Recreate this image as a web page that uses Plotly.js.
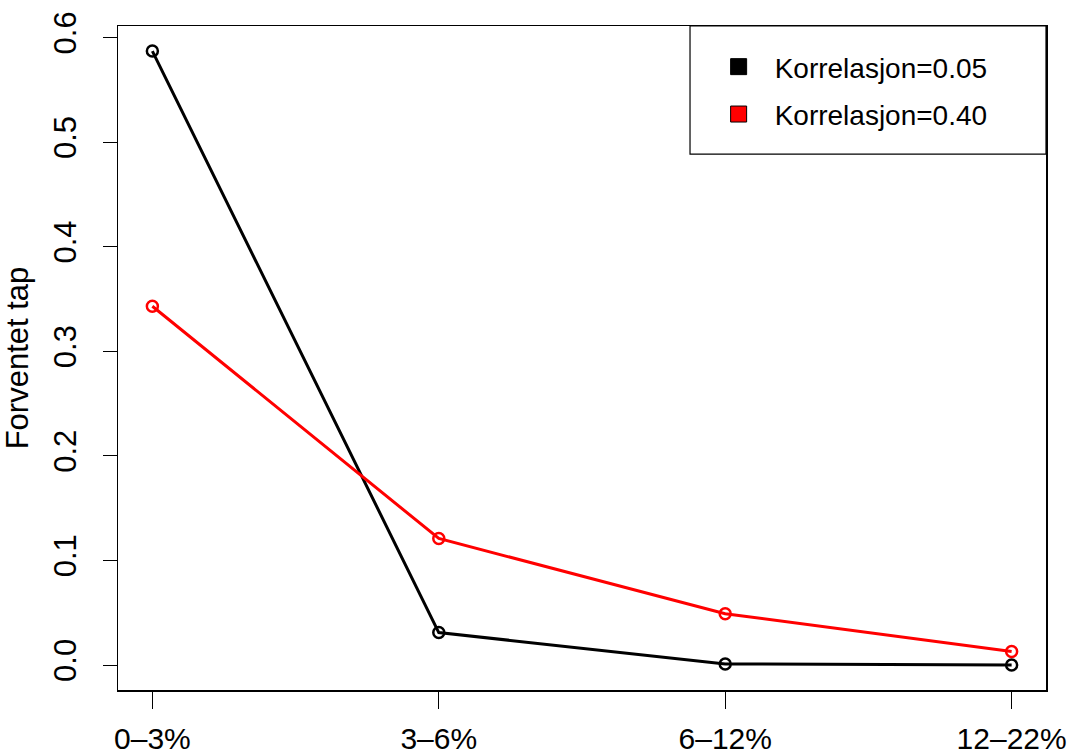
<!DOCTYPE html>
<html>
<head>
<meta charset="utf-8">
<script src="https://cdn.plot.ly/plotly-3.0.1.min.js"></script>
<style>html,body{margin:0;padding:0;background:#fff;}#chart{width:1070px;height:756px;}</style>
</head>
<body>
<div id="chart"></div>
<script>
const categories = ["0\u20133%", "3\u20136%", "6\u201312%", "12\u201322%"];
const xPos = [1, 2, 3, 4];
const corr005 = [0.587, 0.031, 0.001, 0.0];
const corr040 = [0.343, 0.121, 0.049, 0.013];
const seriesNames = ["Korrelasjon=0.05", "Korrelasjon=0.40"];
const seriesColors = ["#000000", "#ff0000"];
const yTicks = [0.0, 0.1, 0.2, 0.3, 0.4, 0.5, 0.6];

const font = "Liberation Sans, Arial, sans-serif";
const series = [corr005, corr040];
const traces = [];
series.forEach((vals, i) => {
  traces.push({
    x: xPos, y: vals, type: "scatter", mode: "lines+markers",
    line: {color: seriesColors[i], width: 3},
    marker: {symbol: "circle-open", size: 11, color: seriesColors[i], line: {width: 2.5, color: seriesColors[i]}},
    showlegend: false, hoverinfo: "skip"
  });
});
series.forEach((vals, i) => {
  traces.push({
    x: [null], y: [null], type: "scatter", mode: "markers", name: seriesNames[i],
    legendgroup: "g" + i,
    marker: {symbol: "square", size: 22, color: seriesColors[i], line: {width: 1, color: "#000"}},
    showlegend: true
  });
});

const layout = {
  width: 1070, height: 756,
  margin: {l: 118, r: 24, t: 26, b: 66},
  paper_bgcolor: "#fff", plot_bgcolor: "#fff",
  font: {family: font, color: "#000"},
  showlegend: true,
  xaxis: {
    range: [0.88, 4.12], tickvals: xPos, ticktext: categories,
    showgrid: false, zeroline: false, showline: true, mirror: true,
    linecolor: "#000", linewidth: 1.5,
    ticks: "outside", ticklen: 17, tickwidth: 1, tickcolor: "#000",
    tickfont: {size: 30, family: font}, ticklabelstandoff: 4
  },
  yaxis: {
    range: [-0.0239, 0.611], tickvals: yTicks, tickformat: ".1f",
    tickangle: -90,
    showgrid: false, zeroline: false, showline: true, mirror: true,
    linecolor: "#000", linewidth: 1.5,
    ticks: "outside", ticklen: 14, tickwidth: 1, tickcolor: "#000",
    tickfont: {size: 31, family: font}, ticklabelstandoff: 14,
    title: {text: "Forventet tap", font: {size: 31, family: font}, standoff: 14}
  },
  legend: {
    x: 0.630, y: 0.976, xanchor: "left", yanchor: "top",
    bgcolor: "rgba(0,0,0,0)", borderwidth: 0,
    font: {size: 28, family: font}, itemsizing: "trace", tracegroupgap: 8,
    itemwidth: 62
  },
  shapes: [{
    type: "rect", xref: "paper", yref: "paper",
    x0: 0.6164, x1: 1, y0: 0.807, y1: 1,
    line: {color: "#000", width: 1.2}, fillcolor: "rgba(0,0,0,0)"
  }]
};
Plotly.newPlot("chart", traces, layout, {displayModeBar: false, staticPlot: true});
</script>
</body>
</html>
